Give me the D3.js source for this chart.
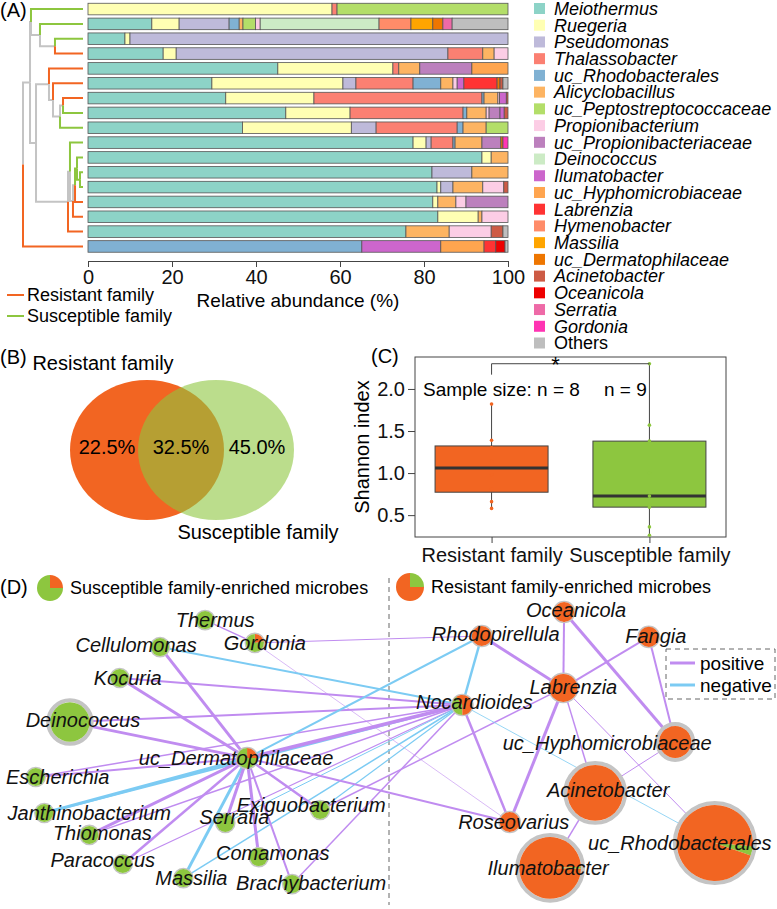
<!DOCTYPE html>
<html>
<head>
<meta charset="utf-8">
<script src="https://cdn.jsdelivr.net/npm/d3@7"></script>
<style>
  body { margin: 0; background: #fff; }
  svg { font-family: "Liberation Sans", Arial, sans-serif; }
</style>
</head>
<body>
<svg id="fig" width="777" height="909"></svg>
<script>
// ---- data: panel A ----
const taxa = ["Meiothermus", "Ruegeria", "Pseudomonas", "Thalassobacter", "uc_Rhodobacterales",
  "Alicyclobacillus", "uc_Peptostreptococcaceae", "Propionibacterium", "uc_Propionibacteriaceae",
  "Deinococcus", "Ilumatobacter", "uc_Hyphomicrobiaceae", "Labrenzia", "Hymenobacter", "Massilia",
  "uc_Dermatophilaceae", "Acinetobacter", "Oceanicola", "Serratia", "Gordonia", "Others"];
const taxaColors = ["#8DD3C7", "#FFFFB3", "#BEBADA", "#FB8072", "#80B1D3", "#FDB462", "#B3DE69",
  "#FCCDE5", "#BC80BD", "#CCEBC5", "#CC66CC", "#FFA54F", "#FF3333", "#FF8C69", "#FFA500",
  "#EE7600", "#CD5B45", "#EE0000", "#EE6AA7", "#FF34B3", "#BEBEBE"];

// one object per sample (top to bottom), relative abundance in %
const barValues = [
  { Ruegeria: 58.1, Thalassobacter: 1.2, uc_Peptostreptococcaceae: 40.7 },
  { Meiothermus: 15.2, Ruegeria: 6.5, Pseudomonas: 11.9, uc_Rhodobacterales: 2.4, Alicyclobacillus: 0.9,
    uc_Peptostreptococcaceae: 3.0, Propionibacterium: 1.1, Deinococcus: 28.3, Hymenobacter: 7.6,
    Massilia: 5.2, uc_Dermatophilaceae: 2.4, Serratia: 2.2, Others: 13.3 },
  { Meiothermus: 8.8, Ruegeria: 1.2, Pseudomonas: 90.0 },
  { Meiothermus: 17.9, Ruegeria: 3.1, Pseudomonas: 64.7, Thalassobacter: 8.3, Alicyclobacillus: 2.7, Propionibacterium: 3.3 },
  { Meiothermus: 45.2, Ruegeria: 27.4, Thalassobacter: 1.4, Alicyclobacillus: 5.0, uc_Propionibacteriaceae: 12.4, uc_Hyphomicrobiaceae: 8.6 },
  { Meiothermus: 29.5, Ruegeria: 31.2, Pseudomonas: 3.1, Thalassobacter: 13.6, uc_Rhodobacterales: 6.6,
    Alicyclobacillus: 2.9, Propionibacterium: 1.0, Ilumatobacter: 1.6, Labrenzia: 7.9, uc_Dermatophilaceae: 0.7,
    Acinetobacter: 0.7, Others: 1.2 },
  { Meiothermus: 32.8, Ruegeria: 21.0, Thalassobacter: 40.0, uc_Rhodobacterales: 0.5, Alicyclobacillus: 3.3,
    Propionibacterium: 0.4, Ilumatobacter: 1.6, Acinetobacter: 0.4 },
  { Meiothermus: 47.1, Ruegeria: 15.3, Thalassobacter: 26.9, uc_Rhodobacterales: 0.9, Alicyclobacillus: 4.6,
    Propionibacterium: 0.7, uc_Propionibacteriaceae: 2.6, Ilumatobacter: 1.0, Acinetobacter: 0.9 },
  { Meiothermus: 36.8, Ruegeria: 25.9, Pseudomonas: 5.9, Thalassobacter: 19.3, uc_Rhodobacterales: 1.4,
    Alicyclobacillus: 5.5, uc_Peptostreptococcaceae: 5.2 },
  { Meiothermus: 77.4, Ruegeria: 3.1, Pseudomonas: 1.2, Thalassobacter: 5.2, uc_Rhodobacterales: 0.5,
    Alicyclobacillus: 6.4, uc_Propionibacteriaceae: 4.5, uc_Dermatophilaceae: 0.5, Gordonia: 1.2 },
  { Meiothermus: 93.8, Ruegeria: 2.2, Alicyclobacillus: 4.0 },
  { Meiothermus: 81.9, Pseudomonas: 9.5, Alicyclobacillus: 8.6 },
  { Meiothermus: 83.1, Ruegeria: 0.9, Pseudomonas: 2.9, Alicyclobacillus: 7.1, Propionibacterium: 5.0, Acinetobacter: 1.0 },
  { Meiothermus: 82.1, Ruegeria: 1.2, Alicyclobacillus: 4.3, Propionibacterium: 2.4, uc_Propionibacteriaceae: 10.0 },
  { Meiothermus: 83.3, Ruegeria: 9.6, Alicyclobacillus: 0.9, Propionibacterium: 6.2 },
  { Meiothermus: 75.7, Alicyclobacillus: 10.3, Propionibacterium: 10.0, Acinetobacter: 2.8, Others: 1.2 },
  { uc_Rhodobacterales: 65.2, Ilumatobacter: 18.8, uc_Hyphomicrobiaceae: 10.3, Labrenzia: 2.8, Oceanicola: 2.2, Others: 0.7 }
];
// family of each sample: R = resistant, S = susceptible
const sampleFamily = ["S", "S", "S", "R", "R", "R", "R", "S", "S", "S", "S", "S", "S", "R", "R", "R", "R"];
const xTicks = [0, 20, 40, 60, 80, 100];

// clustering of samples, h = relative merge height (leaf index for leaves)
const dendrogram = { h: 1.0, children: [
  { h: 0.883, children: [
    { h: 0.867, children: [{ leaf: 0 }, { h: 0.717, children: [{ leaf: 1 }, { h: 0.467, children: [{ leaf: 2 }, { leaf: 3 }] }] }] },
    { h: 0.783, children: [
      { h: 0.567, children: [{ leaf: 4 }, { h: 0.5, children: [{ leaf: 5 },
        { h: 0.383, children: [{ h: 0.333, children: [{ leaf: 6 }, { leaf: 7 }] }, { leaf: 8 }] }] }] },
      { h: 0.25, children: [
        { h: 0.217, children: [{ leaf: 9 }, { h: 0.167, children: [
          { h: 0.133, children: [{ h: 0.1, children: [{ leaf: 10 }, { h: 0.05, children: [{ leaf: 11 }, { leaf: 12 }] }] }, { leaf: 13 }] },
          { leaf: 14 }] }] },
        { leaf: 15 }] }
    ] }
  ] },
  { leaf: 16 }
] };

// ---- data: panel B ----
const vennSets = ["Resistant family", "Susceptible family"];
const vennShares = [22.5, 32.5, 45.0]; // resistant only, shared, susceptible only

// ---- data: panel C ----
const groups = ["Resistant family", "Susceptible family"];
const shannonResistant = [0.58, 0.66, 0.81, 0.98, 1.14, 1.30, 1.39, 1.82];
const shannonSusceptible = [0.26, 0.36, 0.595, 0.62, 0.726, 1.0, 1.38, 1.57, 2.30];
const shannonTicks = [0.5, 1.0, 1.5, 2.0];

// ---- data: panel D ----
const nodes = [
  { id: "Thermus", abund: 5.6, res: 0 },
  { id: "Gordonia", abund: 5.6, res: 0.22 },
  { id: "Cellulomonas", abund: 5.6, res: 0 },
  { id: "Kocuria", abund: 5.6, res: 0 },
  { id: "Deinococcus", abund: 27, res: 0 },
  { id: "uc_Dermatophilaceae", abund: 7, res: 0.25 },
  { id: "Escherichia", abund: 5.6, res: 0 },
  { id: "Janthinobacterium", abund: 5.6, res: 0 },
  { id: "Thiomonas", abund: 5.6, res: 0 },
  { id: "Paracoccus", abund: 5.6, res: 0 },
  { id: "Massilia", abund: 5.6, res: 0 },
  { id: "Serratia", abund: 5.6, res: 0 },
  { id: "Exiguobacterium", abund: 5.6, res: 0 },
  { id: "Comamonas", abund: 5.6, res: 0 },
  { id: "Brachybacterium", abund: 5.6, res: 0 },
  { id: "Oceanicola", abund: 7, res: 1 },
  { id: "Rhodopirellula", abund: 7, res: 1 },
  { id: "Fangia", abund: 7, res: 1 },
  { id: "Labrenzia", abund: 13.6, res: 1 },
  { id: "Nocardioides", abund: 7, res: 0.6 },
  { id: "uc_Hyphomicrobiaceae", abund: 17.7, res: 1 },
  { id: "Acinetobacter", abund: 54, res: 1 },
  { id: "Roseovarius", abund: 7, res: 1 },
  { id: "Ilumatobacter", abund: 66, res: 0.99 },
  { id: "uc_Rhodobacterales", abund: 100, res: 0.96 }
];
// [source, target, correlation sign, strength]
const edges = [
  ["Thermus", "Gordonia", "+", 1.5], ["Gordonia", "Rhodopirellula", "+", 1], ["Gordonia", "Roseovarius", "+", 0.6],
  ["Cellulomonas", "uc_Dermatophilaceae", "+", 3], ["Cellulomonas", "Nocardioides", "-", 2],
  ["Kocuria", "uc_Dermatophilaceae", "+", 3], ["Kocuria", "Nocardioides", "+", 2],
  ["Deinococcus", "uc_Dermatophilaceae", "+", 3], ["Deinococcus", "Nocardioides", "+", 2],
  ["Escherichia", "uc_Dermatophilaceae", "+", 2], ["Escherichia", "Nocardioides", "+", 1.5],
  ["Janthinobacterium", "uc_Dermatophilaceae", "-", 3], ["Janthinobacterium", "Nocardioides", "-", 2],
  ["Thiomonas", "uc_Dermatophilaceae", "+", 3], ["Thiomonas", "Nocardioides", "+", 1.5],
  ["Paracoccus", "uc_Dermatophilaceae", "+", 2.5], ["Paracoccus", "Nocardioides", "+", 1.2],
  ["Massilia", "uc_Dermatophilaceae", "-", 3], ["Massilia", "Nocardioides", "-", 1.5],
  ["Serratia", "uc_Dermatophilaceae", "+", 3], ["Serratia", "Nocardioides", "-", 1],
  ["Exiguobacterium", "uc_Dermatophilaceae", "+", 2.5], ["Exiguobacterium", "Nocardioides", "-", 1.2],
  ["Exiguobacterium", "Labrenzia", "+", 1.5],
  ["Comamonas", "uc_Dermatophilaceae", "+", 3],
  ["Brachybacterium", "uc_Dermatophilaceae", "+", 2], ["Brachybacterium", "Nocardioides", "+", 1.5],
  ["uc_Dermatophilaceae", "Nocardioides", "+", 3.5], ["uc_Dermatophilaceae", "Rhodopirellula", "-", 2],
  ["uc_Dermatophilaceae", "Roseovarius", "+", 2],
  ["Rhodopirellula", "Nocardioides", "-", 2.5], ["Nocardioides", "Roseovarius", "+", 2.5],
  ["Nocardioides", "uc_Rhodobacterales", "-", 0.8],
  ["Labrenzia", "Rhodopirellula", "+", 3], ["Labrenzia", "Oceanicola", "+", 2], ["Labrenzia", "Fangia", "+", 2],
  ["Labrenzia", "Roseovarius", "+", 3], ["Labrenzia", "Acinetobacter", "+", 1.5], ["Labrenzia", "uc_Rhodobacterales", "+", 1],
  ["Oceanicola", "uc_Hyphomicrobiaceae", "+", 3], ["Fangia", "uc_Hyphomicrobiaceae", "+", 2],
  ["uc_Hyphomicrobiaceae", "Acinetobacter", "+", 1], ["Acinetobacter", "Ilumatobacter", "+", 1.5]
];
// node layout (0-1 units from the network layout)
const nodeLayout = {
  Thermus: [0.264, 0.067], Gordonia: [0.328, 0.143], Cellulomonas: [0.206, 0.157], Kocuria: [0.154, 0.26],
  Deinococcus: [0.090, 0.407], uc_Dermatophilaceae: [0.318, 0.527], Escherichia: [0.046, 0.59],
  Janthinobacterium: [0.057, 0.71], Thiomonas: [0.115, 0.783], Paracoccus: [0.158, 0.88], Massilia: [0.236, 0.927],
  Serratia: [0.290, 0.743], Exiguobacterium: [0.412, 0.70], Comamonas: [0.333, 0.857], Brachybacterium: [0.376, 0.947],
  Oceanicola: [0.726, 0.04], Rhodopirellula: [0.620, 0.12], Fangia: [0.835, 0.123], Labrenzia: [0.725, 0.293],
  Nocardioides: [0.595, 0.35], uc_Hyphomicrobiaceae: [0.869, 0.473], Acinetobacter: [0.766, 0.643],
  Roseovarius: [0.656, 0.74], Ilumatobacter: [0.708, 0.893], uc_Rhodobacterales: [0.920, 0.81]
};
// label offsets from the node centre (px)
const labelShift = {
  Thermus: [10, 0], Gordonia: [10, 0], Cellulomonas: [-24, -2], Kocuria: [8, 0], Deinococcus: [13, -2],
  uc_Dermatophilaceae: [-11, 0], Escherichia: [22, 0], Janthinobacterium: [45, 0], Thiomonas: [13, -2],
  Paracoccus: [-20, -4], Massilia: [8, 0], Serratia: [9, -6], Exiguobacterium: [-9, -5], Comamonas: [14, -4],
  Brachybacterium: [19, -1], Oceanicola: [12, -2], Rhodopirellula: [14, -2], Fangia: [7, -1], Labrenzia: [10, -1],
  Nocardioides: [12, -3], uc_Hyphomicrobiaceae: [-68, 1], Acinetobacter: [13, -3], Roseovarius: [4, 0],
  Ilumatobacter: [-2, 0], uc_Rhodobacterales: [-35, 0]
};
// where the minority slice of a pie starts (degrees clockwise from 12 o'clock)
const pieStart = { Nocardioides: 180, Ilumatobacter: 88, uc_Rhodobacterales: 95 };

const RES = "#F26522", SUS = "#8DC63F", GREY = "#C4C4C4";
const FONT = '"Liberation Sans", Arial, sans-serif';
const svg = d3.select("#fig");

// ======================= (A) =======================
const x = d3.scaleLinear().domain([0, 100]).range([88, 508]);
const y = d3.scaleBand().domain(d3.range(barValues.length)).range([0, 255.5]).padding(0.22);

const stackRows = barValues.map((d, i) => Object.assign({ row: i }, d));
const series = d3.stack().keys(taxa).value((d, k) => d[k] || 0)(stackRows);

svg.append("g").selectAll("g").data(series).join("g")
    .attr("fill", (d, i) => taxaColors[i])
  .selectAll("rect").data(d => d.filter(s => s[1] - s[0] > 0)).join("rect")
    .attr("x", s => x(s[0]))
    .attr("y", s => y(s.data.row))
    .attr("width", s => x(s[1]) - x(s[0]))
    .attr("height", y.bandwidth())
    .attr("stroke", "#555")
    .attr("stroke-width", 0.8);

svg.append("g")
    .attr("transform", "translate(0,261)")
    .call(d3.axisBottom(x).tickValues(xTicks).tickSize(6).tickSizeOuter(0).tickPadding(3))
    .attr("font-family", FONT)
    .call(g => g.selectAll("text").attr("font-size", 20).attr("fill", "#111"))
    .call(g => g.selectAll("line,path").attr("stroke", "#444"));

svg.append("text").attr("x", (x(0) + x(100)) / 2).attr("y", 307)
    .attr("text-anchor", "middle").attr("font-size", 19).text("Relative abundance (%)");

// dendrogram
const dx = d3.scaleLinear().domain([0, 1]).range([83, 23]);
const root = d3.hierarchy(dendrogram);
root.eachAfter(n => {
  if (n.data.leaf !== undefined) {
    n.py = y(n.data.leaf) + y.bandwidth() / 2;
    n.fam = sampleFamily[n.data.leaf];
    n.px = dx(0);
  } else {
    n.py = d3.mean(n.children, c => c.py);
    const fams = new Set(n.children.map(c => c.fam));
    n.fam = fams.size === 1 ? n.children[0].fam : null;
    n.px = dx(n.data.h);
  }
});
svg.append("g").attr("fill", "none").attr("stroke-width", 2)
  .selectAll("path").data(root.links()).join("path")
    .attr("stroke", l => l.target.fam === "R" ? RES : l.target.fam === "S" ? SUS : GREY)
    .attr("d", l => `M${l.source.px},${l.source.py}V${l.target.py}H${l.target.px}`);

// family legend
const famLegend = svg.append("g");
[["Resistant family", RES], ["Susceptible family", SUS]].forEach(([t, c], i) => {
  const yy = 295 + i * 21;
  famLegend.append("line").attr("x1", 7).attr("x2", 24).attr("y1", yy).attr("y2", yy)
      .attr("stroke", c).attr("stroke-width", 2);
  famLegend.append("text").attr("x", 27).attr("y", yy).attr("dy", "0.35em")
      .attr("font-size", 18).text(t);
});

// taxa legend
const ly = d3.scalePoint().domain(taxa).range([8.5, 343]);
const leg = svg.append("g").selectAll("g").data(taxa).join("g")
    .attr("transform", d => `translate(534,${ly(d)})`);
leg.append("rect").attr("x", 0).attr("y", -5.5).attr("width", 11).attr("height", 11)
    .attr("fill", (d, i) => taxaColors[i]);
leg.append("text").attr("x", 20).attr("dy", "0.35em").attr("font-size", 18)
    .attr("font-style", d => d === "Others" ? "normal" : "italic").text(d => d);

svg.append("text").attr("x", 0).attr("y", 10).attr("dy", "0.35em").attr("font-size", 20).text("(A)");

// ======================= (B) =======================
svg.append("text").attr("x", 0).attr("y", 357).attr("dy", "0.35em").attr("font-size", 20).text("(B)");
svg.append("ellipse").attr("cx", 147).attr("cy", 450).attr("rx", 77).attr("ry", 70).attr("fill", RES);
svg.append("ellipse").attr("cx", 216).attr("cy", 450).attr("rx", 78).attr("ry", 70).attr("fill", SUS).attr("fill-opacity", 0.6);
const vennX = [107, 181, 257];
svg.append("g").selectAll("text").data(vennShares).join("text")
    .attr("x", (d, i) => vennX[i]).attr("y", 447).attr("dy", "0.35em")
    .attr("text-anchor", "middle").attr("font-size", 20)
    .text(d => d3.format(".1f")(d) + "%");
svg.append("text").attr("x", 103).attr("y", 363).attr("dy", "0.35em").attr("text-anchor", "middle")
    .attr("font-size", 20).text(vennSets[0]);
svg.append("text").attr("x", 258).attr("y", 532).attr("dy", "0.35em").attr("text-anchor", "middle")
    .attr("font-size", 20).text(vennSets[1]);

// ======================= (C) =======================
svg.append("text").attr("x", 371).attr("y", 356).attr("dy", "0.35em").attr("font-size", 20).text("(C)");
const cy = d3.scaleLinear().domain([0.24, 2.38]).range([537, 357]);
const cx = d3.scalePoint().domain(groups).range([415, 726]).padding(0.485);
svg.append("rect").attr("x", 415).attr("y", 357).attr("width", 311).attr("height", 180)
    .attr("fill", "none").attr("stroke", "#444");
svg.append("g").attr("transform", "translate(415,0)")
    .call(d3.axisLeft(cy).tickValues(shannonTicks).tickFormat(d3.format(".1f")).tickSize(7).tickSizeOuter(0).tickPadding(3))
    .attr("font-family", FONT)
    .call(g => g.select(".domain").remove())
    .call(g => g.selectAll("text").attr("font-size", 20).attr("fill", "#111"))
    .call(g => g.selectAll("line").attr("stroke", "#444"));
svg.append("g").attr("transform", "translate(0,537)")
    .call(d3.axisBottom(cx).tickSize(6).tickSizeOuter(0).tickPadding(5))
    .attr("font-family", FONT)
    .call(g => g.select(".domain").remove())
    .call(g => g.selectAll("text").attr("font-size", 20).attr("fill", "#111"))
    .call(g => g.selectAll("line").attr("stroke", "#444"));
svg.append("text").attr("transform", "translate(362,447) rotate(-90)").attr("dy", "0.35em")
    .attr("text-anchor", "middle").attr("font-size", 20).text("Shannon index");

const boxData = [
  { g: groups[0], v: shannonResistant, c: RES },
  { g: groups[1], v: shannonSusceptible, c: SUS }
];
const half = 56.5;
boxData.forEach(b => {
  const s = b.v.slice().sort(d3.ascending);
  const q1 = d3.quantile(s, 0.25), md = d3.quantile(s, 0.5), q3 = d3.quantile(s, 0.75);
  const cxp = cx(b.g);
  const gb = svg.append("g");
  gb.append("line").attr("x1", cxp).attr("x2", cxp).attr("y1", cy(s[0])).attr("y2", cy(s[s.length - 1]))
      .attr("stroke", "#444");
  gb.append("rect").attr("x", cxp - half).attr("width", half * 2).attr("y", cy(q3)).attr("height", cy(q1) - cy(q3))
      .attr("fill", b.c).attr("stroke", "#444");
  gb.append("line").attr("x1", cxp - half).attr("x2", cxp + half).attr("y1", cy(md)).attr("y2", cy(md))
      .attr("stroke", "#333").attr("stroke-width", 3);
  gb.selectAll("circle").data(s).join("circle").attr("cx", cxp).attr("cy", d => cy(d)).attr("r", 1.8)
      .attr("fill", b.c);
});
// significance bracket
const r0 = cx(groups[0]), r1 = cx(groups[1]);
svg.append("path").attr("fill", "none").attr("stroke", "#444")
    .attr("d", `M${r0},${cy(2.17)}V${cy(2.3)}H${r1}`);
svg.append("text").attr("x", (r0 + r1) / 2 - 15).attr("y", 372).attr("text-anchor", "middle")
    .attr("font-size", 22).text("*");
svg.append("text").attr("x", 423).attr("y", cy(2.0)).attr("dy", "0.35em").attr("font-size", 19)
    .text("Sample size: n = " + shannonResistant.length);
svg.append("text").attr("x", 604).attr("y", cy(2.0)).attr("dy", "0.35em").attr("font-size", 19)
    .text("n = " + shannonSusceptible.length);

// ======================= (D) =======================
const nx = d3.scaleLinear().domain([0, 1]).range([0, 777]);
const ny = d3.scaleLinear().domain([0, 1]).range([600, 900]);
const nr = d3.scaleSqrt().domain([0, 100]).range([0, 38]);
const byId = new Map(nodes.map(n => [n.id, n]));
nodes.forEach(n => { n.x = nx(nodeLayout[n.id][0]); n.y = ny(nodeLayout[n.id][1]); n.r = nr(n.abund); });

svg.append("text").attr("x", 0).attr("y", 587).attr("dy", "0.35em").attr("font-size", 20).text("(D)");
svg.append("line").attr("x1", 389).attr("x2", 389).attr("y1", 578).attr("y2", 905)
    .attr("stroke", "#666").attr("stroke-dasharray", "5,4");

function drawPie(g, res, r, startDeg) {
  const minorRes = res <= 0.5;
  const parts = minorRes
    ? [{ v: res, c: RES }, { v: 1 - res, c: SUS }]
    : [{ v: 1 - res, c: SUS }, { v: res, c: RES }];
  const a0 = (startDeg || 0) * Math.PI / 180;
  const pie = d3.pie().sort(null).value(d => d.v).startAngle(a0).endAngle(a0 + 2 * Math.PI);
  const arc = d3.arc().innerRadius(0).outerRadius(r);
  g.selectAll("path").data(pie(parts).filter(p => p.data.v > 0)).join("path")
      .attr("d", arc).attr("fill", p => p.data.c);
}
const icons = [[50, 588, 0.25, "Susceptible family-enriched microbes", 13], [410, 587, 0.75, "Resistant family-enriched microbes", 14]];
icons.forEach(([ix, iy, res, t, r]) => {
  drawPie(svg.append("g").attr("transform", `translate(${ix},${iy})`), res, r, 0);
  svg.append("text").attr("x", ix + r + 7).attr("y", iy).attr("dy", "0.35em").attr("font-size", 18).text(t);
});

svg.append("g").attr("fill", "none").selectAll("line").data(edges).join("line")
    .attr("x1", e => byId.get(e[0]).x).attr("y1", e => byId.get(e[0]).y)
    .attr("x2", e => byId.get(e[1]).x).attr("y2", e => byId.get(e[1]).y)
    .attr("stroke", e => e[2] === "+" ? "#C08CF0" : "#7CCBF3")
    .attr("stroke-width", e => e[3]);

const ng = svg.append("g").selectAll("g").data(nodes).join("g")
    .attr("transform", n => `translate(${n.x},${n.y})`);
ng.append("circle").attr("r", n => n.r + (n.r > 15 ? 2 : 0.6))
    .attr("fill", "none").attr("stroke", GREY).attr("stroke-width", n => n.r > 15 ? 4 : 1.4);
ng.each(function (n) { drawPie(d3.select(this).append("g"), n.res, n.r, pieStart[n.id]); });

svg.append("g").selectAll("text").data(nodes).join("text")
    .attr("x", n => n.x + labelShift[n.id][0]).attr("y", n => n.y + labelShift[n.id][1])
    .attr("dy", "0.35em").attr("text-anchor", "middle").attr("font-size", 20).attr("font-style", "italic")
    .attr("fill", "#111").text(n => n.id);

// edge legend
const el = svg.append("g").attr("transform", "translate(666,649)");
el.append("rect").attr("width", 109).attr("height", 50).attr("fill", "#fff")
    .attr("stroke", "#666").attr("stroke-dasharray", "5,4");
[["positive", "#C08CF0"], ["negative", "#7CCBF3"]].forEach(([t, c], i) => {
  el.append("line").attr("x1", 4).attr("x2", 29).attr("y1", 14 + i * 22).attr("y2", 14 + i * 22)
      .attr("stroke", c).attr("stroke-width", 3);
  el.append("text").attr("x", 34).attr("y", 14 + i * 22).attr("dy", "0.35em").attr("font-size", 19).text(t);
});
</script>
</body>
</html>
